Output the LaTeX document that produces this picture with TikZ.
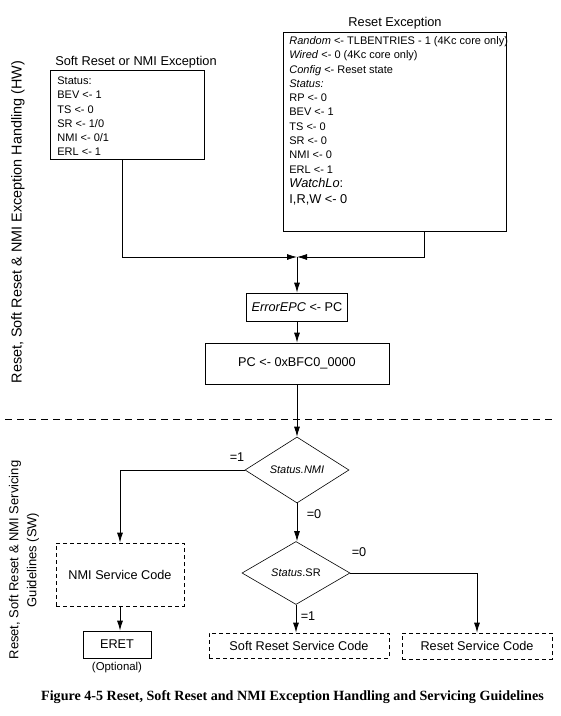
\documentclass[tikz,border=0pt]{standalone}
\usepackage{fontspec}
\setmainfont{Liberation Sans}
\newfontfamily\capfont{Liberation Serif}
\usetikzlibrary{arrows.meta,shapes.geometric,positioning}

\begin{document}
\begin{tikzpicture}[x=1pt,y=-1pt,auto]
\tikzstyle{regs} = [rectangle, draw, line width=0.8pt, anchor=north west,
inner xsep=6pt, inner ysep=2pt, font=\fontsize{11}{14.3}\selectfont]
\tikzstyle{block} = [rectangle, draw, line width=0.8pt, inner sep=0pt,
font=\fontsize{12.7}{15}\selectfont]
\tikzstyle{service} = [block, dash pattern=on 4pt off 3pt]
\tikzstyle{decision} = [diamond, draw, line width=0.6pt, inner sep=0pt,
font=\fontsize{11}{13}\selectfont]
\tikzstyle{title} = [font=\fontsize{12.8}{15}\selectfont]
\tikzstyle{side} = [rotate=90, align=center]
\tikzstyle{tag} = [font=\fontsize{12.7}{15}\selectfont]
\tikzstyle{line} = [draw, line width=0.8pt, -{Latex[length=10pt,width=6pt]}]
\useasboundingbox (0,0) rectangle (561,716);

% side labels
\node [side, font=\fontsize{14.4}{17}\selectfont] (hwlabel) at (18,222)
{Reset, Soft Reset \& NMI Exception Handling (HW)};
\node [side, font=\fontsize{13}{18}\selectfont] (swlabel) at (24,560)
{Reset, Soft Reset \& NMI Servicing\\Guidelines (SW)};

% hardware part
\node [title] (softtitle) at (136,62) {Soft Reset or NMI Exception};
\node [regs, inner xsep=7pt, inner ysep=4pt] (softbox) at (50,70) {\parbox[t][81pt][t]{140pt}{\strut Status:\\
BEV <- 1\\
TS <- 0\\
SR <- 1/0\\
NMI <- 0/1\\
ERL <- 1}};
\node [title] (resettitle) at (395,23) {Reset Exception};
\node [regs] (resetbox) at (283,32) {\parbox[t][195pt][t]{211pt}{\strut\mbox{\textit{Random} <- TLBENTRIES - 1 (4Kc core only)}\\
\textit{Wired} <- 0 (4Kc core only)\\
\textit{Config} <- Reset state\\
\textit{Status:}\\
RP <- 0\\
BEV <- 1\\
TS <- 0\\
SR <- 0\\
NMI <- 0\\
ERL <- 1\\
{\fontsize{12.8}{14.5}\selectfont\textit{WatchLo}:\\[2pt]
I,R,W <- 0}}};
\coordinate (merge) at (297,257);
\node [block, minimum width=101pt, minimum height=28pt] (errorepc) at (297,307) {\textit{ErrorEPC} <- PC};
\node [block, minimum width=184pt, minimum height=41pt] (pcbox) at (297,363.5) {PC <- 0xBFC0\_0000};

\draw [line width=0.8pt, dash pattern=on 7pt off 5pt] (5,419) -- (556,419);

% software part
\node [decision, minimum width=104pt, minimum height=66pt] (nmi) at (297,470) {\textit{Status.NMI}};
\node [decision, minimum width=108pt, minimum height=63pt] (sr) at (296,573) {\textit{Status}.SR};
\node [service, minimum width=128pt, minimum height=63pt] (nmisvc) at (120,574.5) {NMI Service Code};
\node [block, minimum width=68pt, minimum height=27pt] (eret) at (117,644.5) {ERET};
\node [font=\fontsize{11.4}{13}\selectfont, below=0pt of eret] (optional) {(Optional)};
\node [service, minimum width=180pt, minimum height=25pt] (softsvc) at (299,645.5) {Soft Reset Service Code};
\node [service, minimum width=150pt, minimum height=26pt] (resetsvc) at (477,646) {Reset Service Code};

\node [tag] (nmione) at (237,457) {=1};
\node [tag] (nmizero) at (314,514) {=0};
\node [tag] (srzero) at (359,552) {=0};
\node [tag] (srone) at (308,616) {=1};

\node [font=\capfont\bfseries\fontsize{14.1}{16}\selectfont] (caption) at (292.5,697)
{Figure 4-5 Reset, Soft Reset and NMI Exception Handling and Servicing Guidelines};

\tikzstyle{every path}=[line]
\path ([xshift=-5pt]softbox.south) |- (merge);
\path ([xshift=29.5pt]resetbox.south) |- (merge);
\path (merge) -- (errorepc);
\path (errorepc) -- (pcbox);
\path (pcbox) -- (nmi);
\path (nmi.west) -| (nmisvc.north);
\path (nmi.south) -- (nmi.south |- sr.north);
\path (nmisvc.south) -- (nmisvc.south |- eret.north);
\path (sr.south) -- (sr.south |- softsvc.north);
\path (sr.east) -| (resetsvc.north);
\end{tikzpicture}
\end{document}
